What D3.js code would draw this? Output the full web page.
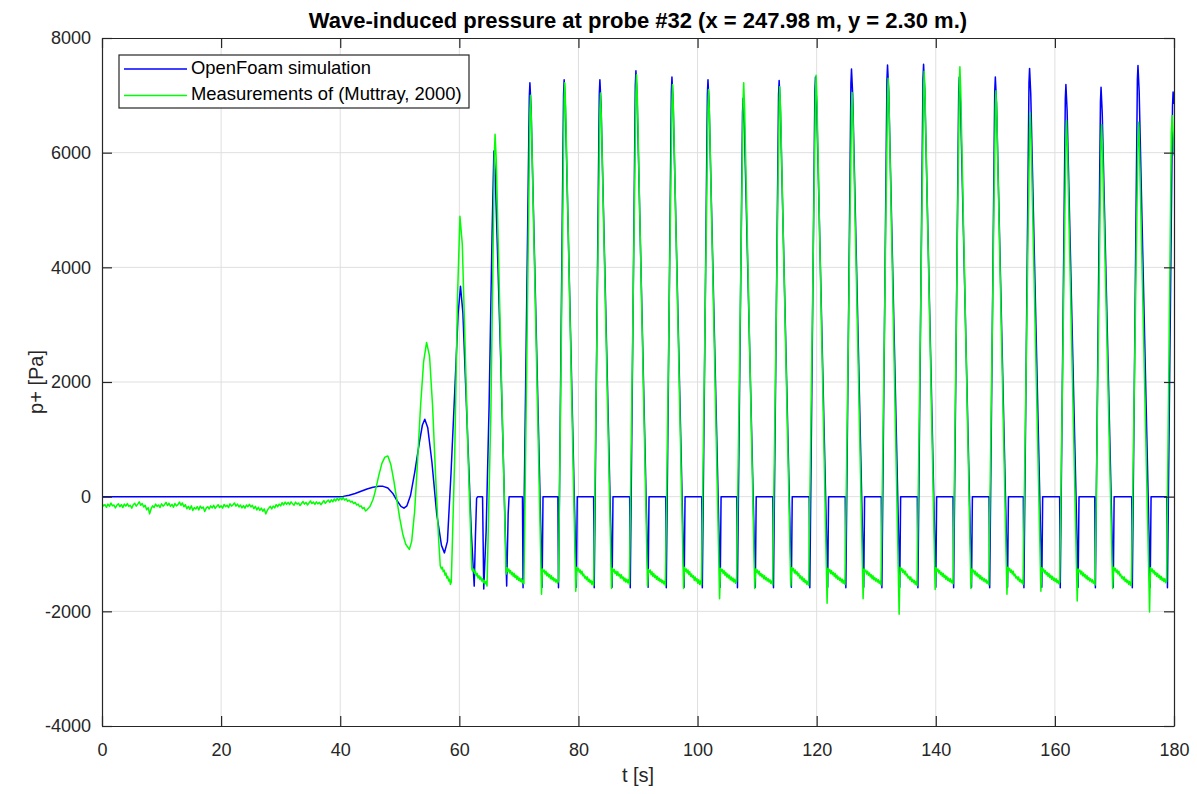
<!DOCTYPE html>
<html>
<head>
<meta charset="utf-8">
<script src="https://cdn.jsdelivr.net/npm/d3@7/dist/d3.min.js"></script>
<style>
  html, body { margin: 0; padding: 0; background: #fff; }
  svg { display: block; font-family: "Liberation Sans", Arial, Helvetica, sans-serif; }
</style>
</head>
<body>
<div id="chart"></div>
<script>
// >-----------------< Data >-------------------<
const titleText = "Wave-induced pressure at probe #32 (x = 247.98 m, y = 2.30 m.)";
const xLabel = "t [s]";
const yLabel = "p+ [Pa]";
const seriesNames = ["OpenFoam simulation", "Measurements of (Muttray, 2000)"];
const xTicks = [0, 20, 40, 60, 80, 100, 120, 140, 160, 180];
const yTicks = [-4000, -2000, 0, 2000, 4000, 6000, 8000];

// [t (s), p+ (Pa)]
const simulation = [
  [0,0],[40,0],[40.5,5],[41.5,25],[42.5,55],[43.5,95],[44.5,135],[45.5,165],[46.5,182],[47.2,180],
  [48,150],[48.8,60],[49.6,-80],[50.2,-170],[50.7,-200],[51.2,-160],[51.8,20],[52.5,420],[53.3,950],
  [53.8,1250],[54.2,1350],[54.7,1200],[55.4,600],[56.2,-300],[57.0,-850],[57.5,-980],[58.0,-780],
  [58.6,400],[59.3,2000],[59.8,3200],[60.2,3670],[60.6,3200],[61.3,1300],[62.0,-600],[62.5,-1560],
  [62.7,-700],[62.9,-30],[63.1,0],[63.9,0],[64.0,-800],[64.1,-1610],[64.5,-600],[65.0,1600],
  [65.5,4600],[65.8,6030],[66.0,5700],[67.0,2200],[67.95,-1560],[68.2,-300],[68.35,0],[70.6,0],[70.7,-1590],
  [71.75,6970],[71.85,7220],[72.05,6770],[73.9,-1580],[74.05,0],[76.55,0],[76.65,-1590],
  [77.5,7020],[77.6,7270],[77.8,6820],[79.65,-1580],[79.8,0],[82.55,0],[82.65,-1590],
  [83.5,7020],[83.6,7270],[83.8,6820],[85.65,-1580],[85.8,0],[88.6,0],[88.7,-1590],
  [89.55,7180],[89.65,7430],[89.85,6980],[91.7,-1580],[91.85,0],[94.65,0],[94.75,-1590],
  [95.6,7070],[95.7,7320],[95.9,6870],[97.75,-1580],[97.9,0],[100.7,0],[100.8,-1590],
  [101.65,7020],[101.75,7270],[101.95,6820],[103.8,-1580],[103.95,0],[106.6,0],[106.7,-1590],
  [107.55,6700],[107.65,6950],[107.85,6500],[109.7,-1580],[109.85,0],[112.65,0],[112.75,-1590],
  [113.6,7010],[113.7,7260],[113.9,6810],[115.75,-1580],[115.9,0],[118.75,0],[118.85,-1590],
  [119.7,7070],[119.8,7320],[120.0,6870],[121.85,-1580],[122.0,0],[124.8,0],[124.9,-1590],
  [125.75,7210],[125.85,7460],[126.05,7010],[127.9,-1580],[128.05,0],[130.85,0],[130.95,-1590],
  [131.8,7280],[131.9,7530],[132.1,7080],[133.95,-1580],[134.1,0],[136.9,0],[137.0,-1590],
  [137.85,7290],[137.95,7540],[138.15,7090],[140.0,-1580],[140.15,0],[142.9,0],[143.0,-1590],
  [143.85,7070],[143.95,7320],[144.15,6870],[146.0,-1580],[146.15,0],[148.95,0],[149.05,-1590],
  [149.9,7070],[150.0,7320],[150.2,6870],[152.05,-1580],[152.2,0],[154.7,0],[154.8,-1590],
  [155.65,7220],[155.75,7470],[155.95,7020],[157.8,-1580],[157.95,0],[160.8,0],[160.9,-1590],
  [161.75,6940],[161.85,7190],[162.05,6740],[163.9,-1580],[164.05,0],[166.7,0],[166.8,-1590],
  [167.65,6890],[167.75,7140],[167.95,6690],[169.8,-1580],[169.95,0],[172.9,0],[173.0,-1590],
  [173.85,7270],[173.95,7520],[174.15,7070],[176.0,-1580],[176.15,0],[178.8,0],[178.9,-1590],
  [179.75,6810],[179.85,7060],[180,6850]
];

const measurements = [
  // calm part
  [0,-120],[0.25,-160],[0.5,-140],[0.75,-185],[1,-130],[1.25,-170],[1.5,-110],[1.75,-160],[2,-145],[2.25,-195],
  [2.5,-150],[2.75,-125],[3,-175],[3.25,-140],[3.5,-190],[3.75,-130],[4,-165],[4.25,-120],[4.5,-170],[4.75,-150],
  [5,-200],[5.25,-140],[5.5,-115],[5.75,-165],[6,-130],[6.25,-90],[6.5,-150],[6.75,-120],[7,-180],[7.25,-150],
  [7.5,-230],[7.75,-190],[8,-300],[8.25,-210],[8.5,-160],[8.75,-190],[9,-130],[9.25,-170],[9.5,-145],[9.75,-190],
  [10,-125],[10.25,-165],[10.5,-140],[10.75,-100],[11,-155],[11.25,-115],[11.5,-170],[11.75,-135],[12,-185],[12.25,-120],
  [12.5,-160],[12.75,-140],[13,-95],[13.25,-150],[13.5,-110],[13.75,-175],[14,-140],[14.25,-210],[14.5,-170],[14.75,-220],
  [15,-160],[15.25,-240],[15.5,-190],[15.75,-215],[16,-175],[16.25,-230],[16.5,-165],[16.75,-205],[17,-180],[17.25,-260],
  [17.5,-200],[17.75,-175],[18,-215],[18.25,-160],[18.5,-195],[18.75,-150],[19,-205],[19.25,-170],[19.5,-140],[19.75,-190],
  [20,-160],[20.25,-200],[20.5,-135],[20.75,-175],[21,-150],[21.25,-190],[21.5,-125],[21.75,-165],[22,-140],[22.25,-110],
  [22.5,-165],[22.75,-130],[23,-180],[23.25,-145],[23.5,-195],[23.75,-155],[24,-200],[24.25,-145],[24.5,-175],[24.75,-135],
  [25,-180],[25.25,-150],[25.5,-210],[25.75,-170],[26,-230],[26.25,-185],[26.5,-240],[26.75,-200],[27,-255],[27.25,-215],
  [27.5,-300],[27.75,-240],[28,-200],[28.25,-170],[28.5,-215],[28.75,-165],[29,-195],[29.25,-140],[29.5,-175],[29.75,-130],
  [30,-160],[30.25,-105],[30.5,-145],[30.75,-95],[31,-135],[31.25,-100],[31.5,-140],[31.75,-90],[32,-125],[32.25,-150],
  [32.5,-95],[32.75,-130],[33,-110],[33.25,-155],[33.5,-120],[33.75,-85],[34,-130],[34.25,-100],[34.5,-145],[34.75,-110],
  [35,-75],[35.25,-120],[35.5,-95],[35.75,-135],[36,-90],[36.25,-125],[36.5,-100],[36.75,-140],[37,-105],[37.25,-70],
  [37.5,-115],[37.75,-85],[38,-60],[38.25,-100],[38.5,-55],[38.75,-90],[39,-40],[39.25,-75],[39.5,-30],[39.75,-65],
  [40,-20],[40.25,-55],[40.5,-15],[40.75,-60],[41,-35],[41.25,-80],[41.5,-60],[41.75,-95],[42,-80],[42.25,-120],
  [42.5,-100],[42.75,-145],[43,-130],[43.25,-175],[43.5,-160],[43.75,-210],[44,-190],[44.25,-250],[44.5,-230],[44.75,-200],
  [45,-170],[45.25,-110],[45.5,-50],[45.75,40],
  // first waves
  [46,150],[46.5,380],[47,580],[47.5,690],[48,710],[48.5,560],[49,280],[49.5,-50],
  [50,-380],[50.5,-650],[51,-830],[51.6,-920],[52,-780],[52.5,-250],[53,650],[53.5,1600],[54,2350],[54.5,2690],
  [55,2450],[55.5,1600],[56,400],[56.5,-700],[56.8,-1210],
  [57.0,-1260],[57.15,-1230],[57.3,-1310],[57.45,-1280],[57.6,-1370],[57.75,-1330],[57.9,-1420],[58.05,-1390],[58.2,-1470],[58.35,-1440],[58.5,-1530],[58.65,-1490],
  [59.2,600],[59.7,3500],[60.1,4890],[60.5,4400],[61,2500],[61.5,600],[62.1,-1270],
  [62.25,-1300],[62.4,-1260],[62.55,-1340],[62.7,-1300],[62.85,-1380],[63.0,-1340],[63.15,-1420],[63.3,-1380],[63.45,-1440],[63.6,-1400],[63.75,-1470],[63.9,-1430],[64.05,-1500],[64.2,-1460],[64.35,-1520],[64.5,-1480],[64.65,-1560],
  [65.3,1500],[65.9,6020],[66.0,6320],[66.2,5870],[67.85,-1350],
  [68.0,-1240],[68.15,-1300],[68.3,-1260],[68.45,-1330],[68.6,-1290],[68.75,-1360],[68.9,-1320],[69.05,-1390],[69.2,-1340],[69.35,-1410],
  [69.5,-1370],[69.65,-1440],[69.8,-1390],[69.95,-1460],[70.1,-1420],[70.25,-1480],[70.4,-1430],[70.55,-1500],[70.7,-1460],[70.85,-1520],
  // regular breaking waves
  [71.85,6700],[71.95,7000],[72.1,6550],[73.8,-1700],
  [73.95,-1260],[74.1,-1310],[74.25,-1280],[74.4,-1350],[74.55,-1300],[74.7,-1380],[74.85,-1330],[75.0,-1400],[75.15,-1360],[75.3,-1430],
  [75.45,-1380],[75.6,-1450],[75.75,-1410],[75.9,-1470],[76.05,-1430],[76.2,-1490],[76.35,-1450],[76.5,-1510],[76.65,-1470],
  [77.6,6920],[77.7,7220],[77.85,6770],[79.55,-1650],
  [79.7,-1230],[79.85,-1290],[80.0,-1250],[80.15,-1320],[80.3,-1280],[80.45,-1350],[80.6,-1300],[80.75,-1380],[80.9,-1350],[81.05,-1420],
  [81.2,-1390],[81.35,-1450],[81.5,-1400],[81.65,-1480],[81.8,-1440],[81.95,-1500],[82.1,-1460],[82.25,-1530],[82.4,-1480],[82.55,-1550],
  [83.6,6740],[83.7,7040],[83.85,6590],[85.55,-1600],
  [85.7,-1250],[85.85,-1310],[86.0,-1270],[86.15,-1340],[86.3,-1300],[86.45,-1370],[86.6,-1310],[86.75,-1380],[86.9,-1350],[87.05,-1420],
  [87.2,-1360],[87.35,-1430],[87.5,-1400],[87.65,-1470],[87.8,-1420],[87.95,-1490],[88.1,-1440],[88.25,-1500],[88.4,-1450],[88.55,-1530],
  [89.65,7060],[89.75,7360],[89.9,6910],[91.6,-1560],
  [91.75,-1270],[91.9,-1320],[92.05,-1280],[92.2,-1360],[92.35,-1310],[92.5,-1390],[92.65,-1340],[92.8,-1410],[92.95,-1370],[93.1,-1440],
  [93.25,-1390],[93.4,-1460],[93.55,-1420],[93.7,-1480],[93.85,-1440],[94.0,-1500],[94.15,-1460],[94.3,-1520],[94.45,-1480],[94.6,-1550],
  [95.7,6890],[95.8,7190],[95.95,6740],[97.65,-1600],
  [97.8,-1230],[97.95,-1300],[98.1,-1260],[98.25,-1330],[98.4,-1280],[98.55,-1360],[98.7,-1310],[98.85,-1390],[99.0,-1350],[99.15,-1410],
  [99.3,-1380],[99.45,-1460],[99.6,-1400],[99.75,-1470],[99.9,-1430],[100.05,-1510],[100.2,-1450],[100.35,-1530],[100.5,-1470],[100.65,-1540],
  [101.75,6800],[101.85,7100],[102.0,6650],[103.7,-1780],
  [103.85,-1250],[104.0,-1300],[104.15,-1270],[104.3,-1340],[104.45,-1290],[104.6,-1370],[104.75,-1320],[104.9,-1400],[105.05,-1350],[105.2,-1420],
  [105.35,-1370],[105.5,-1450],[105.65,-1400],[105.8,-1470],[105.95,-1420],[106.1,-1490],[106.25,-1440],[106.4,-1510],[106.55,-1480],
  [107.65,6920],[107.75,7220],[107.9,6770],[109.6,-1600],
  [109.75,-1260],[109.9,-1320],[110.05,-1280],[110.2,-1350],[110.35,-1300],[110.5,-1380],[110.65,-1340],[110.8,-1400],[110.95,-1360],[111.1,-1430],
  [111.25,-1380],[111.4,-1450],[111.55,-1410],[111.7,-1470],[111.85,-1430],[112.0,-1490],[112.15,-1450],[112.3,-1510],[112.45,-1470],[112.6,-1540],
  [113.7,6850],[113.8,7150],[113.95,6700],[115.65,-1560],
  [115.8,-1240],[115.95,-1290],[116.1,-1250],[116.25,-1330],[116.4,-1280],[116.55,-1350],[116.7,-1310],[116.85,-1380],[117.0,-1340],[117.15,-1420],
  [117.3,-1380],[117.45,-1450],[117.6,-1400],[117.75,-1480],[117.9,-1430],[118.05,-1500],[118.2,-1460],[118.35,-1530],[118.5,-1480],[118.65,-1550],
  [119.8,7050],[119.9,7350],[120.05,6900],[121.75,-1860],
  [121.9,-1250],[122.05,-1310],[122.2,-1270],[122.35,-1340],[122.5,-1290],[122.65,-1360],[122.8,-1320],[122.95,-1390],[123.1,-1340],[123.25,-1420],
  [123.4,-1370],[123.55,-1440],[123.7,-1400],[123.85,-1460],[124.0,-1420],[124.15,-1490],[124.3,-1440],[124.45,-1510],[124.6,-1460],[124.75,-1530],
  [125.85,6750],[125.95,7050],[126.1,6600],[127.8,-1780],
  [127.95,-1260],[128.1,-1310],[128.25,-1280],[128.4,-1350],[128.55,-1300],[128.7,-1370],[128.85,-1330],[129.0,-1400],[129.15,-1360],[129.3,-1430],
  [129.45,-1380],[129.6,-1450],[129.75,-1410],[129.9,-1470],[130.05,-1430],[130.2,-1490],[130.35,-1450],[130.5,-1510],[130.65,-1470],[130.8,-1540],
  [131.9,7000],[132.0,7300],[132.15,6850],[133.85,-2050],
  [134.0,-1230],[134.15,-1290],[134.3,-1250],[134.45,-1320],[134.6,-1280],[134.75,-1350],[134.9,-1300],[135.05,-1380],[135.2,-1350],[135.35,-1420],
  [135.5,-1390],[135.65,-1450],[135.8,-1400],[135.95,-1480],[136.1,-1440],[136.25,-1500],[136.4,-1460],[136.55,-1530],[136.7,-1480],[136.85,-1550],
  [137.95,7120],[138.05,7420],[138.2,6970],[139.9,-1620],
  [140.05,-1240],[140.2,-1300],[140.35,-1260],[140.5,-1330],[140.65,-1290],[140.8,-1360],[140.95,-1320],[141.1,-1390],[141.25,-1340],[141.4,-1410],
  [141.55,-1370],[141.7,-1440],[141.85,-1390],[142.0,-1460],[142.15,-1420],[142.3,-1480],[142.45,-1430],[142.6,-1500],[142.75,-1460],[142.9,-1520],
  [143.95,7200],[144.05,7500],[144.2,7050],[145.9,-1600],
  [146.05,-1260],[146.2,-1310],[146.35,-1280],[146.5,-1350],[146.65,-1300],[146.8,-1380],[146.95,-1330],[147.1,-1400],[147.25,-1360],[147.4,-1430],
  [147.55,-1380],[147.7,-1450],[147.85,-1410],[148.0,-1470],[148.15,-1430],[148.3,-1490],[148.45,-1450],[148.6,-1510],[148.75,-1470],[148.9,-1540],
  [150.0,6780],[150.1,7080],[150.25,6630],[151.95,-1700],
  [152.1,-1230],[152.25,-1290],[152.4,-1250],[152.55,-1320],[152.7,-1280],[152.85,-1350],[153.0,-1300],[153.15,-1380],[153.3,-1350],[153.45,-1420],
  [153.6,-1390],[153.75,-1450],[153.9,-1400],[154.05,-1480],[154.2,-1440],[154.35,-1500],[154.5,-1460],[154.65,-1530],
  [155.75,6390],[155.85,6690],[156.0,6240],[157.65,-1650],
  [157.8,-1240],[157.95,-1300],[158.1,-1260],[158.25,-1330],[158.4,-1290],[158.55,-1360],[158.7,-1320],[158.85,-1390],[159.0,-1340],[159.15,-1410],
  [159.3,-1370],[159.45,-1440],[159.6,-1390],[159.75,-1460],[159.9,-1420],[160.05,-1480],[160.2,-1430],[160.35,-1500],[160.5,-1460],[160.65,-1520],[160.8,-1490],
  [161.85,6260],[161.95,6560],[162.1,6110],[163.75,-1820],
  [163.9,-1260],[164.05,-1310],[164.2,-1280],[164.35,-1350],[164.5,-1300],[164.65,-1380],[164.8,-1330],[164.95,-1400],[165.1,-1360],[165.25,-1430],
  [165.4,-1380],[165.55,-1450],[165.7,-1410],[165.85,-1470],[166.0,-1430],[166.15,-1490],[166.3,-1450],[166.45,-1510],[166.6,-1470],[166.75,-1540],
  [167.75,6190],[167.85,6490],[168.0,6040],[169.7,-1600],
  [169.85,-1230],[170.0,-1290],[170.15,-1250],[170.3,-1320],[170.45,-1280],[170.6,-1350],[170.75,-1300],[170.9,-1380],[171.05,-1350],[171.2,-1420],
  [171.35,-1390],[171.5,-1450],[171.65,-1400],[171.8,-1480],[171.95,-1440],[172.1,-1500],[172.25,-1460],[172.4,-1530],[172.55,-1480],[172.7,-1550],[172.85,-1500],
  [173.95,6230],[174.05,6530],[174.2,6080],[175.9,-2010],
  [176.05,-1240],[176.2,-1300],[176.35,-1260],[176.5,-1330],[176.65,-1290],[176.8,-1360],[176.95,-1320],[177.1,-1390],[177.25,-1340],[177.4,-1410],
  [177.55,-1370],[177.7,-1440],[177.85,-1390],[178.0,-1460],[178.15,-1420],[178.3,-1480],[178.45,-1430],[178.6,-1500],[178.75,-1480],
  [179.55,6350],[179.7,6650],[180,5950]
];

// >-----------------< Config >-------------------<
const cfg = {
  width: 1197,
  height: 794,
  margin: { top: 38, right: 23, bottom: 68, left: 102 },
  axisColor: "#262626",
  gridColor: "#dfdfdf",
  colors: ["#0000ff", "#00ff00"],
  tickLen: 10,
  fontSize: 18
};

// >-----------------< Chart >-------------------<
function drawChart() {
  const { width, height, margin } = cfg;
  const innerW = width - margin.left - margin.right;
  const innerH = height - margin.top - margin.bottom;

  const svg = d3.select("#chart").append("svg")
    .attr("width", width)
    .attr("height", height);

  const x = d3.scaleLinear().domain([0, 180]).range([0, innerW]);
  const y = d3.scaleLinear().domain([-4000, 8000]).range([innerH, 0]);

  const g = svg.append("g")
    .attr("transform", `translate(${margin.left},${margin.top})`);

  // Grid
  g.append("g").selectAll("line").data(xTicks.slice(1, -1)).enter().append("line")
    .attr("x1", d => x(d)).attr("x2", d => x(d))
    .attr("y1", 0).attr("y2", innerH)
    .attr("stroke", cfg.gridColor).attr("stroke-width", 1);
  g.append("g").selectAll("line").data(yTicks.slice(1, -1)).enter().append("line")
    .attr("y1", d => y(d)).attr("y2", d => y(d))
    .attr("x1", 0).attr("x2", innerW)
    .attr("stroke", cfg.gridColor).attr("stroke-width", 1);

  // Lines
  svg.append("clipPath").attr("id", "plot-clip")
    .append("rect").attr("width", innerW).attr("height", innerH);

  const line = d3.line().x(d => x(d[0])).y(d => y(d[1]));
  const plot = g.append("g").attr("clip-path", "url(#plot-clip)");
  [simulation, measurements].forEach((series, i) => {
    plot.append("path")
      .datum(series)
      .attr("d", line)
      .attr("fill", "none")
      .attr("stroke", cfg.colors[i])
      .attr("stroke-width", 1.5)
      .attr("stroke-linejoin", "round");
  });

  // Axes (ticks inside, all four sides)
  const fmt = d => String(d);
  const bottom = g.append("g").attr("transform", `translate(0,${innerH})`)
    .call(d3.axisBottom(x).tickValues(xTicks).tickFormat(fmt).tickSizeInner(-cfg.tickLen).tickSizeOuter(0).tickPadding(17));
  const top = g.append("g")
    .call(d3.axisTop(x).tickValues(xTicks).tickFormat("").tickSizeInner(-cfg.tickLen).tickSizeOuter(0));
  const left = g.append("g")
    .call(d3.axisLeft(y).tickValues(yTicks).tickFormat(fmt).tickSizeInner(-cfg.tickLen).tickSizeOuter(0).tickPadding(11));
  const right = g.append("g").attr("transform", `translate(${innerW},0)`)
    .call(d3.axisRight(y).tickValues(yTicks).tickFormat("").tickSizeInner(-cfg.tickLen).tickSizeOuter(0));

  [bottom, top, left, right].forEach(a => {
    a.selectAll("path.domain").attr("stroke", cfg.axisColor).attr("stroke-width", 1.2);
    a.selectAll(".tick line").attr("stroke", cfg.axisColor).attr("stroke-width", 1.2);
    a.selectAll(".tick text")
      .attr("fill", cfg.axisColor)
      .style("font-size", cfg.fontSize + "px")
      .style("font-family", "'Liberation Sans', Arial, sans-serif");
  });

  // Title and labels
  svg.append("text")
    .attr("x", margin.left + innerW / 2).attr("y", 28)
    .attr("text-anchor", "middle")
    .attr("font-weight", "bold")
    .attr("font-size", 22)
    .attr("fill", "#000")
    .text(titleText);

  svg.append("text")
    .attr("x", margin.left + innerW / 2).attr("y", 782)
    .attr("text-anchor", "middle")
    .attr("font-size", 20)
    .attr("fill", cfg.axisColor)
    .text(xLabel);

  svg.append("text")
    .attr("transform", `translate(38,${margin.top + innerH / 2}) rotate(-90)`)
    .attr("text-anchor", "middle")
    .attr("dominant-baseline", "middle")
    .attr("font-size", 20)
    .attr("fill", cfg.axisColor)
    .text(yLabel);

  // Legend
  const lg = svg.append("g").attr("transform", "translate(119,55)");
  lg.append("rect")
    .attr("width", 350).attr("height", 53)
    .attr("fill", "#fff")
    .attr("stroke", cfg.axisColor).attr("stroke-width", 1.2);
  seriesNames.forEach((name, i) => {
    const ly = 14 + i * 26.5;
    lg.append("line")
      .attr("x1", 5).attr("x2", 68)
      .attr("y1", ly).attr("y2", ly)
      .attr("stroke", cfg.colors[i]).attr("stroke-width", 1.5);
    lg.append("text")
      .attr("x", 72).attr("y", ly)
      .attr("dominant-baseline", "middle")
      .attr("font-size", 18.4)
      .attr("fill", "#000")
      .text(name);
  });
}

document.addEventListener("DOMContentLoaded", drawChart);
</script>
</body>
</html>
